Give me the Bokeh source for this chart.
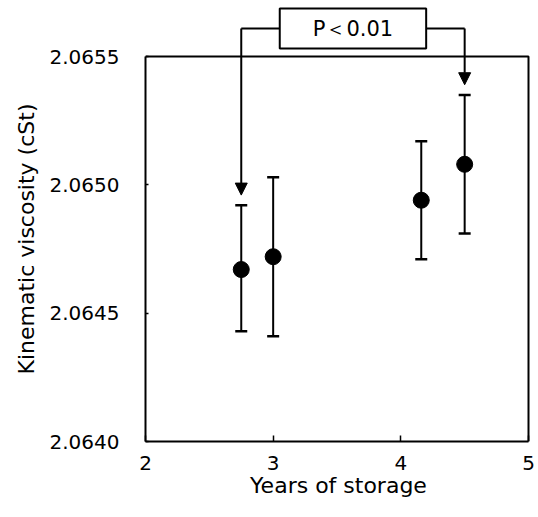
from bokeh.plotting import figure
from bokeh.models import (ColumnDataSource, Whisker, TeeHead, Arrow, NormalHead, Label,
                          FixedTicker, PrintfTickFormatter, Range1d, Title)
from bokeh.embed import file_html
from bokeh.resources import INLINE

# ---- data ----
years = [2.75, 3.00, 4.16, 4.50]
viscosity = [2.06467, 2.06472, 2.06494, 2.06508]
err_upper = [2.06492, 2.06503, 2.06517, 2.06535]
err_lower = [2.06443, 2.06441, 2.06471, 2.06481]
x_ticks = [2, 3, 4, 5]
y_ticks = [2.0640, 2.0645, 2.0650, 2.0655]
x_label = "Years of storage"
y_label = "Kinematic viscosity (cSt)"
sig_text = "P＜0.01"
sig_pair = [0, 3]

FONT = "DejaVu Sans"
W, H = 538, 517
B_LEFT, B_RIGHT, B_TOP, B_BOTTOM = 145, 7, 0, 76
FRAME_H = H - B_TOP - B_BOTTOM          # whole frame incl. strip above the box
BOX_H = 385                              # height of the boxed data area
FRAME_W = W - B_LEFT - B_RIGHT
BOX_W = 383

span_y = y_ticks[-1] - y_ticks[0]
span_x = x_ticks[-1] - x_ticks[0]
y_top = y_ticks[0] + span_y * FRAME_H / BOX_H
x_right = x_ticks[0] + span_x * FRAME_W / BOX_W

src = ColumnDataSource(dict(x=years, y=viscosity, upper=err_upper, lower=err_lower))

p = figure(width=W, height=H,
           x_range=Range1d(x_ticks[0], x_right),
           y_range=Range1d(y_ticks[0], y_top),
           output_backend="svg", toolbar_location=None,
           min_border_left=B_LEFT, min_border_top=B_TOP,
           min_border_right=B_RIGHT, min_border_bottom=B_BOTTOM)

p.xgrid.visible = False
p.ygrid.visible = False
p.outline_line_color = None

p.xaxis.ticker = FixedTicker(ticks=x_ticks)
p.yaxis.ticker = FixedTicker(ticks=y_ticks)
p.xaxis.bounds = (x_ticks[0], x_ticks[-1])
p.yaxis.bounds = (y_ticks[0], y_ticks[-1])
p.yaxis.formatter = PrintfTickFormatter(format="%.4f")
p.xaxis.axis_label = x_label

for ax in (p.xaxis, p.yaxis):
    ax.axis_line_color = "black"
    ax.axis_line_width = 2
    ax.major_tick_line_color = "black"
    ax.major_tick_line_width = 1.5
    ax.major_tick_out = 0
    ax.minor_tick_line_color = None
    ax.major_label_text_font = FONT
    ax.major_label_text_font_size = "20px"
    ax.major_label_text_color = "black"
    ax.axis_label_text_font = FONT
    ax.axis_label_text_font_size = "22px"
    ax.axis_label_text_font_style = "normal"
    ax.axis_label_text_color = "black"

p.xaxis.major_tick_in = 6
p.yaxis.major_tick_in = 3
p.xaxis.major_label_standoff = 14
p.xaxis.axis_label_standoff = 0
p.yaxis.major_label_standoff = 26

# y-axis title, centred on the boxed data area (not on the whole frame)
p.add_layout(Title(text=y_label, align="left", offset=67, standoff=15,
                   text_font=FONT, text_font_size="22px", text_font_style="normal",
                   text_color="black"), "left")

# plot box (top and right sides; left/bottom are the axis lines)
p.line([x_ticks[0], x_ticks[-1], x_ticks[-1]], [y_ticks[-1], y_ticks[-1], y_ticks[0]],
       line_color="black", line_width=2)

whisk = Whisker(base="x", upper="upper", lower="lower", source=src,
                line_color="black", line_width=2,
                upper_head=TeeHead(size=12, line_color="black", line_width=2.5),
                lower_head=TeeHead(size=12, line_color="black", line_width=2.5))
p.add_layout(whisk)
p.scatter("x", "y", source=src, size=16, color="black")

# ---- significance bracket ----
i, j = sig_pair
yb = y_ticks[-1] + span_y * 28 / BOX_H
x1, x2 = years[i], years[j]
p.line([x1, x2], [yb, yb], line_color="black", line_width=2)
for k in (i, j):
    tip = err_upper[k] + 0.00004
    p.add_layout(Arrow(x_start=years[k], y_start=yb, x_end=years[k], y_end=tip,
                       line_color="black", line_width=2,
                       end=NormalHead(size=12, fill_color="black", line_color="black",
                                      line_width=1)))
p.add_layout(Label(x=(x1 + x2) / 2, y=yb, text=sig_text,
                   text_align="center", text_baseline="middle",
                   text_font=FONT, text_font_size="21px", text_color="black",
                   background_fill_color="white", background_fill_alpha=1.0,
                   border_line_color="black", border_line_width=2,
                   padding=dict(x=33, y=8)))

open("out.html", "w").write(file_html(p, INLINE))
